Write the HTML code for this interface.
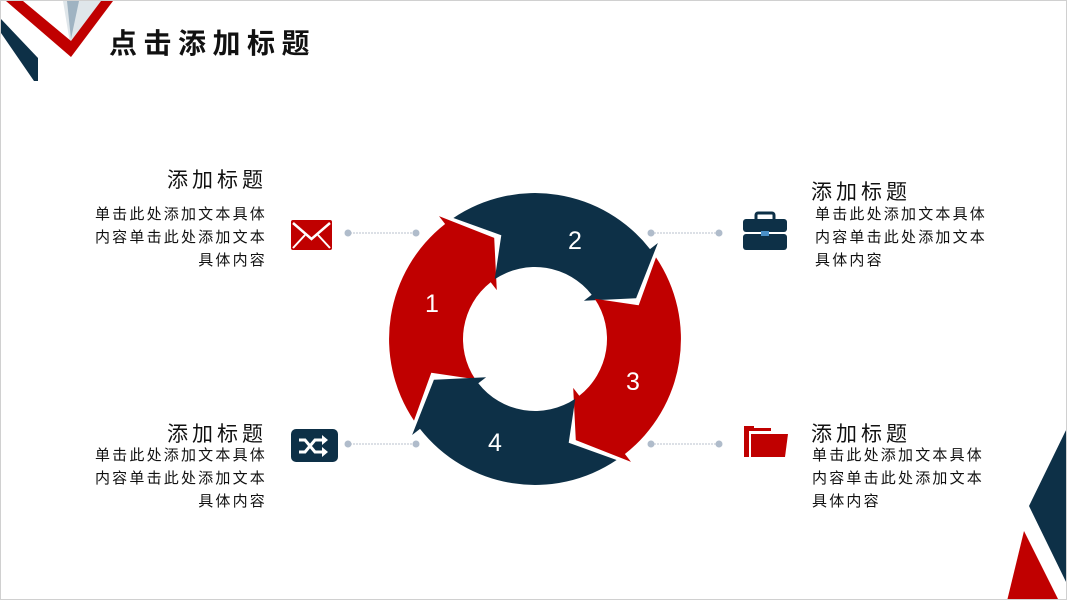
<!DOCTYPE html>
<html><head><meta charset="utf-8"><style>
html,body{margin:0;padding:0;background:#fff}
#s{position:relative;width:1067px;height:600px;overflow:hidden;font-family:"Liberation Sans","Noto Sans CJK SC",sans-serif;color:#111;box-sizing:border-box;border:1px solid #d0d0d0}
.t{position:absolute;font-size:21px;white-space:nowrap;letter-spacing:4px}
.b{position:absolute;font-size:15px;line-height:23px;white-space:nowrap;letter-spacing:2.2px}
.r{text-align:right}
svg{position:absolute;left:0;top:0}
</style></head><body><div id="s">
<svg width="1067" height="600" id="g">
<polygon points="0,18 37,57 37,80 33,80 0,32" fill="#0d3047"/>
<polygon points="62,0 110,0 70,48" fill="#dfe6ea"/>
<polygon points="66,0 78,0 70,38" fill="#9fb3c2"/>
<polygon points="5,0 22,0 70,40 100,0 112,0 70,56" fill="#c00000"/>
<polygon points="1067,425 1028,505 1067,585" fill="#0d3047"/>
<polygon points="1023,530 1006,600 1058,600" fill="#c00000"/>
<g stroke="#b8c0cc" stroke-width="1" stroke-dasharray="2,1">
<line x1="346" y1="232" x2="415" y2="232"/><line x1="650" y1="232" x2="718" y2="232"/>
<line x1="346" y1="443" x2="415" y2="443"/><line x1="650" y1="443" x2="718" y2="443"/></g>
<g fill="#b0bccb"><circle cx="347" cy="232" r="3.5"/><circle cx="415" cy="232" r="3.5"/><circle cx="650" cy="232" r="3.5"/><circle cx="718" cy="232" r="3.5"/>
<circle cx="347" cy="443" r="3.5"/><circle cx="415" cy="443" r="3.5"/><circle cx="650" cy="443" r="3.5"/><circle cx="718" cy="443" r="3.5"/></g>
<rect x="290" y="219" width="41" height="30" rx="2" fill="#c00000"/>
<polyline points="292,222 310.5,238 329,222" fill="none" stroke="#fff" stroke-width="2.5"/>
<line x1="292" y1="247" x2="304" y2="234" stroke="#fff" stroke-width="2"/><line x1="329" y1="247" x2="317" y2="234" stroke="#fff" stroke-width="2"/>
<rect x="755" y="212" width="18" height="8" rx="2" fill="none" stroke="#0d3047" stroke-width="3"/>
<rect x="742" y="218" width="44" height="13" rx="3" fill="#0d3047"/>
<rect x="742" y="233" width="44" height="16" rx="3" fill="#0d3047"/>
<rect x="760" y="230" width="8" height="5" fill="#4a90c8"/>
<rect x="290" y="428" width="47" height="33" rx="5" fill="#0d3047"/>
<path d="M298,439 h6 l10,12 h8 M298,451 h6 l10,-12 h8" fill="none" stroke="#fff" stroke-width="3"/>
<path d="M321,434 l6,5 -6,5z M321,446 l6,5 -6,5z" fill="#fff"/>
<path d="M743,425 h10 v2 h17 v3 h-22 v26 h-5z" fill="#c00000"/>
<path d="M750,433 h37 l-3,23 h-34z" fill="#c00000"/>
<g id="ring"></g>
<g fill="#fff" font-size="25" font-family="Liberation Sans,sans-serif" text-anchor="middle">
<text x="431" y="311">1</text><text x="574" y="248">2</text><text x="632" y="389">3</text><text x="494" y="450">4</text></g>
</svg>
<div class="t" style="left:108px;top:21px;font-size:28px;font-weight:bold;letter-spacing:6.5px">点击添加标题</div>
<div class="t r" style="right:799px;top:163px">添加标题</div>
<div class="b r" style="right:799px;top:202px">单击此处添加文本具体<br>内容单击此处添加文本<br>具体内容</div>
<div class="t" style="left:810px;top:175px">添加标题</div>
<div class="b" style="left:814px;top:202px">单击此处添加文本具体<br>内容单击此处添加文本<br>具体内容</div>
<div class="t r" style="right:799px;top:417px">添加标题</div>
<div class="b r" style="right:799px;top:443px">单击此处添加文本具体<br>内容单击此处添加文本<br>具体内容</div>
<div class="t" style="left:810px;top:417px">添加标题</div>
<div class="b" style="left:811px;top:443px">单击此处添加文本具体<br>内容单击此处添加文本<br>具体内容</div>
</div>
<script>
(function(){
var cx=534,cy=338,R=146,r=72,m=(R+r)/2,ns="http://www.w3.org/2000/svg";
function p(a,rad){var t=a*Math.PI/180;return (cx+rad*Math.sin(t)).toFixed(1)+","+(cy-rad*Math.cos(t)).toFixed(1);}
var segs=[[236,322,"#c00000"],[326,412,"#0d3047"],[56,142,"#c00000"],[146,232,"#0d3047"]];
var g=document.getElementById("ring");
segs.forEach(function(s){
 var a1=s[0],a2=s[1],d="M"+p(a1,R);
 d+=" A"+R+","+R+" 0 0 1 "+p(a2,R);
 d+=" L"+p(a2,R+10)+" L"+p(a2+16,m)+" L"+p(a2,r-10)+" L"+p(a2,r);
 d+=" A"+r+","+r+" 0 0 0 "+p(a1,r);
 d+=" L"+p(a1+16,m)+" Z";
 var e=document.createElementNS(ns,"path");e.setAttribute("d",d);e.setAttribute("fill",s[2]);g.appendChild(e);
});
})();
</script>
</body></html>
